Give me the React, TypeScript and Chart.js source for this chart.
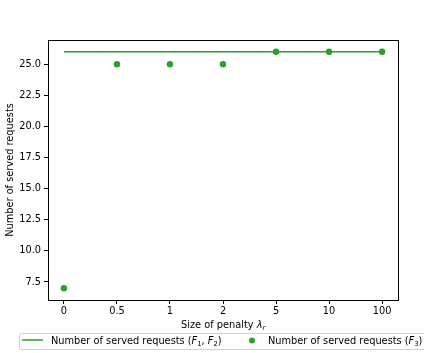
import React, { useEffect, useRef } from "react";
import { Chart, registerables } from "chart.js";

Chart.register(...registerables);

const categories = ["0", "0.5", "1", "2", "5", "10", "100"];
const servedF12 = [26, 26, 26, 26, 26, 26, 26];
const servedF3 = [7, 25, 25, 25, 26, 26, 26];
const yTicks = [7.5, 10, 12.5, 15, 17.5, 20, 22.5, 25];

const GREEN = "#2ca02c";
const FONT = "'DejaVu Sans', sans-serif";
const FS = 9.8;

function drawRich(ctx: CanvasRenderingContext2D, x: number, y: number, parts: { t: string; it?: boolean; sub?: boolean }[]) {
  let cx = x;
  for (const p of parts) {
    const size = p.sub ? FS * 0.7 : FS;
    ctx.font = `${p.it ? "italic " : ""}${size}px ${FONT}`;
    ctx.fillText(p.t, cx, p.sub ? y + 2 : y);
    cx += ctx.measureText(p.t).width;
  }
  return cx;
}

const decor = {
  id: "decor",
  afterDraw(chart: any) {
    const ctx: CanvasRenderingContext2D = chart.ctx;
    const a = chart.chartArea;
    ctx.save();
    ctx.strokeStyle = "#000";
    ctx.lineWidth = 1;
    ctx.strokeRect(Math.round(a.left) + 0.5, Math.round(a.top) + 0.5, Math.round(a.right - a.left), Math.round(a.bottom - a.top));
    // x title
    ctx.fillStyle = "#000";
    ctx.textBaseline = "alphabetic";
    ctx.textAlign = "left";
    drawRich(ctx, 181, 328, [{ t: "Size of penalty " }, { t: "λ", it: true }, { t: "r", it: true, sub: true }]);
    // legend box
    ctx.strokeStyle = "#d0d0d0";
    ctx.fillStyle = "rgba(255,255,255,0.8)";
    ctx.beginPath();
    (ctx as any).roundRect(19.5, 333.5, 420, 16, 2);
    ctx.fill();
    ctx.stroke();
    ctx.strokeStyle = GREEN;
    ctx.lineWidth = 1.5;
    ctx.beginPath();
    ctx.moveTo(22, 340);
    ctx.lineTo(43, 340);
    ctx.stroke();
    ctx.fillStyle = GREEN;
    ctx.beginPath();
    ctx.arc(252, 340.5, 3, 0, Math.PI * 2);
    ctx.fill();
    ctx.fillStyle = "#000";
    drawRich(ctx, 51, 344, [
      { t: "Number of served requests (" },
      { t: "F", it: true },
      { t: "1", sub: true },
      { t: ", " },
      { t: "F", it: true },
      { t: "2", sub: true },
      { t: ")" },
    ]);
    drawRich(ctx, 268, 344, [
      { t: "Number of served requests (" },
      { t: "F", it: true },
      { t: "3", sub: true },
      { t: ")" },
    ]);
    ctx.restore();
  },
};

export default function App() {
  const ref = useRef<HTMLCanvasElement>(null);
  useEffect(() => {
    document.body.style.margin = "0";
    const chart = new Chart(ref.current!, {
      type: "scatter",
      data: {
        datasets: [
          {
            type: "line",
            label: "F12",
            data: servedF12.map((v, i) => ({ x: i, y: v })),
            borderColor: GREEN,
            borderWidth: 1.5,
            pointRadius: 0,
            fill: false,
          },
          {
            label: "F3",
            data: servedF3.map((v, i) => ({ x: i, y: v })),
            backgroundColor: GREEN,
            borderColor: GREEN,
            pointRadius: 3.2,
            pointBorderWidth: 0,
          },
        ],
      },
      options: {
        animation: false,
        responsive: false,
        layout: { padding: { top: 40, right: 26, left: 0, bottom: 0 } },
        plugins: { legend: { display: false }, tooltip: { enabled: false } },
        scales: {
          x: {
            type: "linear",
            min: -0.3,
            max: 6.3,
            afterBuildTicks: (s: any) => {
              s.ticks = categories.map((_, i) => ({ value: i }));
            },
            afterFit: (s: any) => {
              s.height = 53;
            },
            ticks: {
              callback: (v: any) => categories[v as number],
              color: "#000",
              font: { family: FONT, size: FS },
              padding: 2,
              maxRotation: 0,
              autoSkip: false,
            },
            grid: { drawOnChartArea: false, drawTicks: true, tickLength: 4, color: "#000" },
            border: { display: true, color: "#000" },
          },
          y: {
            min: 6.05,
            max: 26.95,
            afterBuildTicks: (s: any) => {
              s.ticks = yTicks.map((v) => ({ value: v }));
            },
            afterFit: (s: any) => {
              s.width = 48;
            },
            title: {
              display: true,
              text: "Number of served requests",
              color: "#000",
              font: { family: FONT, size: FS },
              padding: { top: 5, bottom: 2 },
            },
            ticks: {
              callback: (v: any) => Number(v).toFixed(1),
              color: "#000",
              font: { family: FONT, size: FS },
              padding: 3,
              autoSkip: false,
            },
            grid: { drawOnChartArea: false, drawTicks: true, tickLength: 4, color: "#000" },
            border: { display: true, color: "#000" },
          },
        },
      },
      plugins: [decor],
    } as any);
    return () => chart.destroy();
  }, []);
  return <canvas ref={ref} width={424} height={353} style={{ display: "block" }} />;
}
